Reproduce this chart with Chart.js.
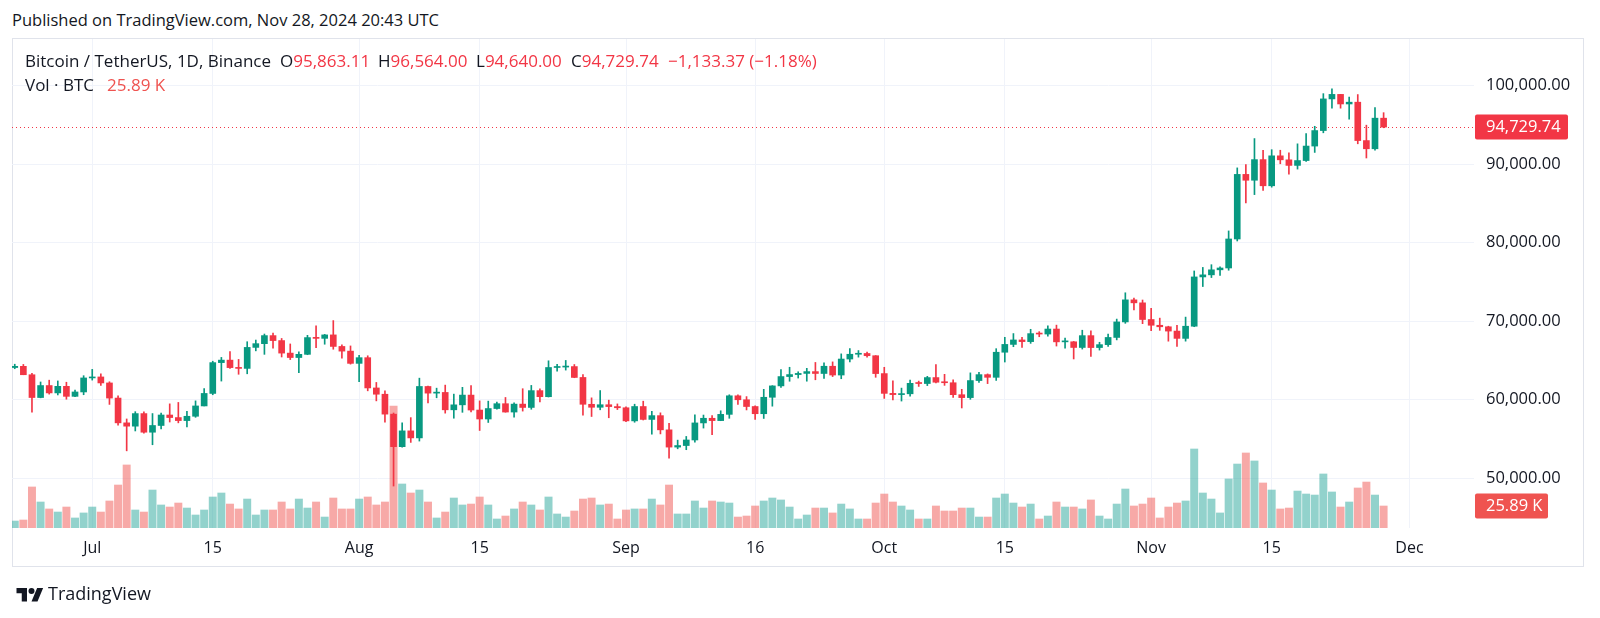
<!DOCTYPE html>
<html><head><meta charset="utf-8">
<script src="https://cdn.jsdelivr.net/npm/chart.js"></script>
<style>
html,body{margin:0;padding:0;background:#fff;}
body{width:1600px;height:618px;position:relative;overflow:hidden;font-family:"Open Sans","Noto Sans",sans-serif;color:#131722;}
#c{position:absolute;left:0;top:0;}
.t{position:absolute;white-space:nowrap;line-height:1;}
.r{color:#F23645;}
#frame{position:absolute;left:12px;top:38px;width:1572px;height:529px;border:1px solid #e0e3eb;box-sizing:border-box;}
</style></head>
<body>
<div class="t" style="left:12px;top:12px;font-size:16.5px">Published on TradingView.com, Nov 28, 2024 20:43 UTC</div>
<div id="frame"></div>
<canvas id="c" width="1600" height="618"></canvas>
<div class="t" style="left:25px;top:52px;font-size:17px">Bitcoin / TetherUS, 1D, Binance</div>
<div class="t" style="left:280px;top:52px;font-size:17px">O<span class="r" id="vo"></span></div>
<div class="t" style="left:378px;top:52px;font-size:17px">H<span class="r" id="vh"></span></div>
<div class="t" style="left:476px;top:52px;font-size:17px">L<span class="r" id="vl"></span></div>
<div class="t" style="left:571px;top:52px;font-size:17px">C<span class="r" id="vc"></span></div>
<div class="t r" style="left:668px;top:52px;font-size:17px" id="vchg"></div>
<div class="t" style="left:25px;top:76px;font-size:17px">Vol · BTC</div>
<div class="t" style="left:107px;top:76px;font-size:17px;color:#ef5350" id="vvol"></div>
<svg style="position:absolute;left:16px;top:585px" width="28" height="18" viewBox="0 0 36 24"><path fill="#131722" d="M14 22H7V11H0V4h14v18zM28 22h-8l7.5-18h8L28 22z"/><circle fill="#131722" cx="20" cy="8" r="4"/></svg>
<div class="t" style="left:48px;top:584px;font-size:18px">TradingView</div>
<script>
const dates = ['2024-06-22','2024-06-23','2024-06-24','2024-06-25','2024-06-26','2024-06-27','2024-06-28','2024-06-29','2024-06-30',
'2024-07-01','2024-07-02','2024-07-03','2024-07-04','2024-07-05','2024-07-06','2024-07-07','2024-07-08','2024-07-09','2024-07-10','2024-07-11','2024-07-12','2024-07-13','2024-07-14','2024-07-15','2024-07-16','2024-07-17','2024-07-18','2024-07-19','2024-07-20','2024-07-21','2024-07-22','2024-07-23','2024-07-24','2024-07-25','2024-07-26','2024-07-27','2024-07-28','2024-07-29','2024-07-30','2024-07-31',
'2024-08-01','2024-08-02','2024-08-03','2024-08-04','2024-08-05','2024-08-06','2024-08-07','2024-08-08','2024-08-09','2024-08-10','2024-08-11','2024-08-12','2024-08-13','2024-08-14','2024-08-15','2024-08-16','2024-08-17','2024-08-18','2024-08-19','2024-08-20','2024-08-21','2024-08-22','2024-08-23','2024-08-24','2024-08-25','2024-08-26','2024-08-27','2024-08-28','2024-08-29','2024-08-30','2024-08-31',
'2024-09-01','2024-09-02','2024-09-03','2024-09-04','2024-09-05','2024-09-06','2024-09-07','2024-09-08','2024-09-09','2024-09-10','2024-09-11','2024-09-12','2024-09-13','2024-09-14','2024-09-15','2024-09-16','2024-09-17','2024-09-18','2024-09-19','2024-09-20','2024-09-21','2024-09-22','2024-09-23','2024-09-24','2024-09-25','2024-09-26','2024-09-27','2024-09-28','2024-09-29','2024-09-30',
'2024-10-01','2024-10-02','2024-10-03','2024-10-04','2024-10-05','2024-10-06','2024-10-07','2024-10-08','2024-10-09','2024-10-10','2024-10-11','2024-10-12','2024-10-13','2024-10-14','2024-10-15','2024-10-16','2024-10-17','2024-10-18','2024-10-19','2024-10-20','2024-10-21','2024-10-22','2024-10-23','2024-10-24','2024-10-25','2024-10-26','2024-10-27','2024-10-28','2024-10-29','2024-10-30','2024-10-31',
'2024-11-01','2024-11-02','2024-11-03','2024-11-04','2024-11-05','2024-11-06','2024-11-07','2024-11-08','2024-11-09','2024-11-10','2024-11-11','2024-11-12','2024-11-13','2024-11-14','2024-11-15','2024-11-16','2024-11-17','2024-11-18','2024-11-19','2024-11-20','2024-11-21','2024-11-22','2024-11-23','2024-11-24','2024-11-25','2024-11-26','2024-11-27','2024-11-28'];

const opens = [64096,64252,63180,60277,61804,60864,61706,60427,60986,
62772,62900,62135,60208,57050,56628,58231,55857,56714,58050,57725,57339,57889,59204,60797,64724,65043,64087,63987,66661,67139,68165,67532,65936,65372,65777,67912,67813,68255,66784,66188,
64628,65354,61498,60697,58161,54018,56030,55134,61685,60837,60924,58712,59346,60587,58683,57541,58874,59491,58427,59438,59013,61156,60381,64103,64157,64220,62834,59416,59034,59359,59123,
58974,57301,59132,57487,57971,56160,53962,54160,54869,57042,57635,57338,58132,60498,59993,59132,58213,60309,61759,62947,63201,63348,63578,63339,64262,63143,65181,65790,65887,65603,
63327,60806,60649,60752,62086,62059,62819,62225,62161,60637,60267,62438,63193,62851,66046,67042,67612,67399,68418,68363,69002,67368,67378,66653,68161,66642,67014,67930,69908,72720,72339,
70215,69482,69289,68742,67811,69359,75639,75904,76545,76778,80474,88701,87955,90585,87250,91066,90558,89845,90464,92310,94286,98317,98893,97673,97900,93010,91965,95863.11];

const highs = [64520,64491,63369,62258,62487,62389,62225,61224,63058,
63861,63288,62285,60498,57546,58475,58449,58236,58296,59470,59650,58526,59850,61420,64900,65388,66128,65133,67386,67598,68366,68474,67800,67102,66112,68200,69399,68318,70079,67000,66849,
65659,65596,62198,61117,58305,57040,57716,62745,61744,61470,61858,60711,61578,61800,59849,59817,59700,60284,59617,61400,61820,61400,64955,64513,65000,64481,63212,60235,61166,59944,59462,
59076,59425,59809,58519,58327,56995,54850,55318,58088,58044,57981,58588,60625,60610,60395,59210,61320,61786,63850,64133,63559,64000,64745,64688,64817,65839,66498,66260,66076,65618,
64130,62392,61477,62484,62370,62975,64478,63234,62520,61322,63417,63480,63285,66500,67950,68425,67939,68969,68668,69400,69500,67836,67420,68850,68770,67317,68373,70270,73620,72961,72700,
71632,70392,69362,69480,70522,76400,76850,77199,76927,81500,89530,89956,93265,91765,91850,91779,91449,92594,93905,94831,98988,99588,98902,98564,98871,94973,97208,96564];

const lows = [63944,63180,58402,60239,60712,60606,60063,60383,60632,
62497,61806,59400,56771,53485,56018,55724,54260,56289,57157,57050,56542,57756,59194,60632,62373,64000,63238,63300,66222,65777,66559,65441,65111,63456,65732,66640,67066,66428,65302,64530,
62302,61130,59850,57122,49000,53962,54560,54730,59575,60242,58286,57642,58392,58433,56078,57098,58785,58408,57787,58548,58783,59724,60342,63619,63773,62800,58034,57860,58713,57700,58744,
57201,57128,57415,55606,55643,52550,53745,53629,54591,56386,55545,57324,57632,59400,58696,57493,57610,59174,61555,62350,62758,62357,62538,62700,62947,62670,64819,65422,65432,62856,
60164,59981,59828,60459,61689,61798,62128,61824,60300,58946,60050,62208,62050,62457,64800,66750,66666,67177,68021,68100,66835,66571,65188,66450,65522,66320,66802,67618,69730,71436,69685,
68779,68836,67455,66803,67458,69298,74416,75560,75825,76492,80216,85072,86127,86668,87073,90056,88722,89376,90357,91500,94000,97122,97136,95734,92600,90791,91792,94640];

const closes = [64252,63180,60277,61804,60864,61706,60427,60986,62772,
62900,62135,60208,57050,56628,58231,55857,56714,58050,57725,57339,57889,59204,60797,64724,65043,64087,63987,66661,67139,68165,67532,65936,65372,65777,67912,67813,68255,66784,66188,64628,
65354,61498,60697,58161,54018,56030,55134,61685,60837,60924,58712,59346,60587,58683,57541,58874,59491,58427,59438,59013,61156,60381,64103,64157,64220,62834,59416,59034,59359,59123,58974,
57301,59132,57487,57971,56160,53962,54160,54869,57042,57635,57338,58132,60498,59993,59132,58213,60309,61759,62947,63201,63348,63578,63339,64262,63143,65181,65790,65887,65603,63327,
60806,60649,60752,62086,62059,62819,62225,62161,60637,60267,62438,63193,62851,66046,67042,67612,67399,68418,68363,69002,67368,67378,66653,68161,66642,67014,67930,69908,72720,72339,70215,
69482,69289,68742,67811,69359,75639,75904,76545,76778,80474,88701,87955,90585,87250,91066,90558,89845,90464,92310,94286,98317,98893,97673,97900,93010,91965,95863.11,94729.74];

// volume in thousands of BTC
const volumes = [8.2,9.4,48.3,30.6,22.4,18.8,24.7,11.8,17.7,
24.7,18.8,31.8,50.6,74.2,21.2,18.8,44.7,27.1,24.7,29.4,23.5,15.3,21.2,36.5,41.2,28.2,22.4,34.1,15.3,21.2,21.2,30.6,22.4,34.1,23.5,30.6,12.9,35.3,22.4,22.4,
34.1,36.5,27.1,30.6,143.6,51.8,41.2,44.7,30.6,11.8,18.8,35.3,27.1,28.2,36.5,27.1,10.6,14.1,22.4,30.6,27.1,21.2,36.5,16.5,12.9,20.0,34.1,35.3,27.1,28.2,10.6,
21.2,22.4,22.4,34.1,27.1,50.6,16.5,16.5,31.8,23.5,31.8,30.6,29.4,12.9,14.1,25.9,31.8,35.3,33.0,24.7,10.6,15.3,23.5,23.5,17.7,28.2,22.4,10.6,10.6,29.4,
40.0,30.6,25.9,21.2,10.6,10.6,25.9,20.0,20.0,23.5,23.5,12.9,12.9,35.3,40.0,29.4,24.7,28.2,10.6,14.1,30.6,24.7,24.7,22.4,33.0,14.1,10.6,28.2,45.9,25.9,28.2,
35.3,11.8,24.7,29.4,31.8,93.0,41.2,34.1,17.7,57.7,75.3,88.3,78.9,53.0,44.7,22.4,23.5,43.5,40.0,38.8,63.6,42.4,24.7,30.6,47.1,54.1,38.8,25.89];

const tickDates = ['2024-07-01','2024-07-15','2024-08-01','2024-08-15','2024-09-01','2024-09-16','2024-10-01','2024-10-15','2024-11-01','2024-11-15','2024-12-01'];
const tickLabels = ['Jul','15','Aug','15','Sep','16','Oct','15','Nov','15','Dec'];
const priceTicks = [50000,60000,70000,80000,90000,100000];

const GREEN='#089981', RED='#F23645';
const VUP='rgba(38,166,154,0.5)', VDN='rgba(239,83,80,0.5)', VLBL='#ef5350';
const N = closes.length;
const t0 = Date.parse(dates[0]);
const dayIndex = s => Math.round((Date.parse(s)-t0)/864e5);
const xs = dates.map(dayIndex);
const isUp = closes.map((c,i)=>c>=opens[i]);
const fmt2 = v => v.toLocaleString('en-US',{minimumFractionDigits:2,maximumFractionDigits:2});

// legend
document.getElementById('vo').textContent = fmt2(opens[N-1]);
document.getElementById('vh').textContent = fmt2(highs[N-1]);
document.getElementById('vl').textContent = fmt2(lows[N-1]);
document.getElementById('vc').textContent = fmt2(closes[N-1]);
const chg = closes[N-1]-closes[N-2];
const pct = chg/closes[N-2]*100;
document.getElementById('vchg').textContent = (chg<0?'\u2212':'+')+fmt2(Math.abs(chg))+' ('+(chg<0?'\u2212':'+')+Math.abs(pct).toFixed(2)+'%)';
document.getElementById('vvol').textContent = volumes[N-1].toFixed(2)+' K';

const lastPlugin = {
  id:'lastPlugin',
  beforeDatasetsDraw(chart){
    const {ctx, chartArea:a, scales:{y}} = chart;
    const py = Math.round(y.getPixelForValue(closes[N-1]))+0.5;
    ctx.save();
    ctx.strokeStyle = RED; ctx.lineWidth = 1; ctx.setLineDash([1,3]);
    ctx.beginPath(); ctx.moveTo(a.left,py); ctx.lineTo(a.right,py); ctx.stroke();
    ctx.restore();
  },
  afterDatasetsDraw(chart){
    const {ctx, chartArea:a, scales:{y, yv}} = chart;
    const box = (cy, w, col, txt) => {
      const x = a.right+1, h = 25, top = cy-h/2;
      ctx.fillStyle = col;
      ctx.beginPath();
      if (ctx.roundRect) ctx.roundRect(x, top, w, h, 2); else ctx.rect(x, top, w, h);
      ctx.fill();
      ctx.fillStyle = '#fff';
      ctx.font = '16.5px "Open Sans"';
      ctx.textBaseline = 'middle'; ctx.textAlign = 'left';
      ctx.fillText(txt, x+11, cy+0.5);
    };
    ctx.save();
    box(y.getPixelForValue(closes[N-1]), 93, RED, fmt2(closes[N-1]));
    box(yv.getPixelForValue(volumes[N-1]), 73, VLBL, volumes[N-1].toFixed(2)+' K');
    ctx.restore();
  }
};

new Chart(document.getElementById('c'), {
  type:'bar',
  data:{
    datasets:[
      { label:'body', order:0, yAxisID:'y', grouped:false, barThickness:6, minBarLength:1, borderWidth:0,
        data: xs.map((x,i)=>({x, y:[opens[i], closes[i]]})),
        backgroundColor: isUp.map(u=>u?GREEN:RED) },
      { label:'wick', order:1, yAxisID:'y', grouped:false, barThickness:1, minBarLength:1, borderWidth:0,
        data: xs.map((x,i)=>({x, y:[lows[i], highs[i]]})),
        backgroundColor: isUp.map(u=>u?GREEN:RED) },
      { label:'vol', order:2, yAxisID:'yv', grouped:false, barThickness:7.3, borderWidth:0,
        data: xs.map((x,i)=>({x, y:volumes[i]})),
        backgroundColor: isUp.map(u=>u?VUP:VDN) }
    ]
  },
  options:{
    responsive:false, animation:false, devicePixelRatio:1, events:[],
    layout:{padding:{left:12, top:39, right:16, bottom:51}},
    plugins:{legend:{display:false}, tooltip:{enabled:false}},
    scales:{
      x:{ type:'linear', min:-0.32, max:169.5, offset:false,
        grid:{color:'#f0f3fa', drawTicks:false, offset:false}, border:{display:false},
        afterBuildTicks: s => { s.ticks = tickDates.map(d=>({value:dayIndex(d)})); },
        afterFit: s => { s.height = 39; },
        ticks:{ autoSkip:false, maxRotation:0, padding:11, color:'#131722', font:{family:'Open Sans', size:16},
          callback:(v,i)=>tickLabels[i] } },
      y:{ type:'linear', position:'right', min:43656, max:105949,
        grid:{color:'#f0f3fa', drawTicks:false}, border:{display:false},
        afterBuildTicks: s => { s.ticks = priceTicks.map(v=>({value:v})); },
        afterFit: s => { s.width = 110; },
        ticks:{ padding:12, color:'#131722', font:{family:'Open Sans', size:16.5}, callback:v=>fmt2(v) } },
      yv:{ type:'linear', display:false, min:0, max:575.6 }
    }
  },
  plugins:[lastPlugin]
});
</script>
</body></html>
